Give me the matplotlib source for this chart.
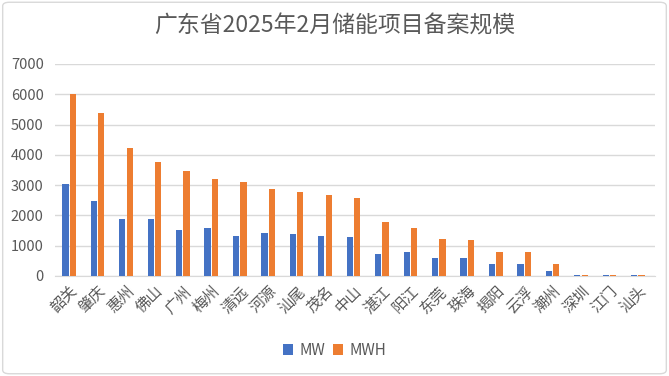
import numpy as np
import matplotlib.pyplot as plt
from matplotlib.patches import FancyBboxPatch

plt.rcParams['font.family'] = ['Noto Sans CJK SC', 'DejaVu Sans']

cities = ['韶关', '肇庆', '惠州', '佛山', '广州', '梅州', '清远', '河源', '汕尾', '茂名', '中山',
          '湛江', '阳江', '东莞', '珠海', '揭阳', '云浮', '潮州', '深圳', '江门', '汕头']
mw = [3020, 2480, 1890, 1890, 1520, 1590, 1320, 1430, 1390, 1320, 1300,
      740, 800, 600, 600, 400, 400, 170, 30, 30, 30]
mwh = [6020, 5390, 4230, 3770, 3470, 3210, 3110, 2880, 2780, 2680, 2580,
       1790, 1590, 1230, 1200, 800, 800, 400, 30, 30, 30]

grey = '#595959'
blue = '#4472C4'
orange = '#ED7D31'

fig = plt.figure(figsize=(6.69, 3.76), dpi=100)
fig.patches.append(FancyBboxPatch((0.004, 0.006), 0.992, 0.988, boxstyle='round,pad=0,rounding_size=0.01',
                                  transform=fig.transFigure, fill=False, edgecolor='#d9d9d9', lw=1))
ax = fig.add_axes([0.082, 0.266, 0.897, 0.564])

x = np.arange(len(cities))
w = 0.22
ax.bar(x - 0.13, mw, w, color=blue, label='MW', zorder=3)
ax.bar(x + 0.13, mwh, w, color=orange, label='MWH', zorder=3)

ax.set_ylim(0, 7000)
ax.set_xlim(-0.5, 20.6)
ax.set_yticks(range(0, 7001, 1000))
ax.yaxis.grid(True, color='#d9d9d9', lw=1, zorder=0)
for s in ['top', 'right', 'left']:
    ax.spines[s].set_visible(False)
ax.spines['bottom'].set_color('#d9d9d9')
ax.tick_params(axis='both', length=0, colors=grey, labelsize=10.5)
ax.tick_params(axis='y', pad=8)
ax.tick_params(axis='x', pad=5)
ax.set_xticks(x)
ax.set_xticklabels(cities, rotation=45, ha='right', rotation_mode='anchor', fontsize=11)

fig.text(0.5, 0.93, '广东省2025年2月储能项目备案规模', ha='center', va='center', fontsize=16.5, color=grey)
fig.legend(loc='center', bbox_to_anchor=(0.5, 0.068), ncol=2, frameon=False, fontsize=11,
           handlelength=0.7, handleheight=0.7, handletextpad=0.4, columnspacing=0.5, labelcolor=grey)

fig.savefig('out.png', dpi=100)
